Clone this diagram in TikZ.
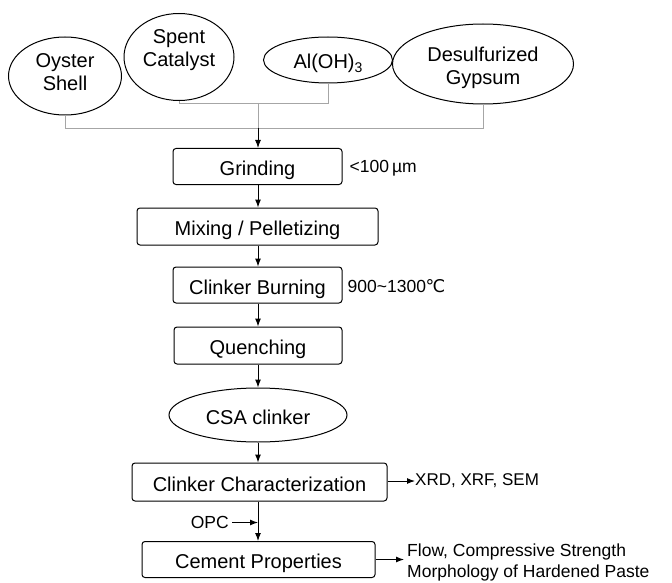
\documentclass[tikz,border=0pt]{standalone}
\usepackage{fontspec}
\setmainfont{Liberation Sans}
\newfontfamily\djv{DejaVu Sans}
\usetikzlibrary{shapes.geometric,arrows.meta,calc}
\tikzset{
  big/.style={font=\fontsize{20}{23}\selectfont},
  small/.style={font=\fontsize{17.5}{21}\selectfont, inner sep=0pt},
  src/.style={ellipse, draw=black, line width=1pt, inner sep=0pt, align=center, big},
  oneline/.style={text height=18pt, text depth=0pt},
  stepbox/.style={rectangle, rounded corners=3pt, draw=black, line width=1pt, inner sep=0pt, big, oneline},
  arr/.style={-{Latex[length=8pt,width=6pt]}, line width=1pt, black},
  feed/.style={line width=0.8pt, gray!70},
}
\begin{document}
\begin{tikzpicture}[x=1pt,y=-1pt]
\useasboundingbox (0,0) rectangle (672,583);
% source ellipses
\node[src, text height=34pt, text depth=4.7pt, minimum width=113pt, minimum height=78pt] (oyster) at (65,76) {Oyster\\Shell};
\node[src, text height=30pt, text depth=10.7pt, minimum width=110pt, minimum height=87pt] (spent) at (179,57) {Spent\\Catalyst};
\node[src, oneline, minimum width=129pt, minimum height=46pt] (al) at (328,60) {Al(OH)\raisebox{-0.35ex}{\fontsize{14}{14}\selectfont 3}};
\node[src, text height=45pt, text depth=3.7pt, minimum width=181pt, minimum height=80pt] (gyp) at (483,64) {Desulfurized\\Gypsum};
% process
\node[stepbox, minimum width=169pt, minimum height=36pt] (grind) at (257.5,166.5) {Grinding};
\node[stepbox, minimum width=241pt, minimum height=37pt] (mix) at (257.5,226.5) {Mixing / Pelletizing};
\node[stepbox, minimum width=169pt, minimum height=36pt] (burn) at (257.5,285) {Clinker Burning};
\node[stepbox, minimum width=168pt, minimum height=37pt] (quench) at (258,345.5) {Quenching};
\node[src, oneline, minimum width=178pt, minimum height=54pt] (csa) at (258,415) {CSA clinker};
\node[stepbox, minimum width=255pt, minimum height=38pt] (char) at (259.5,482) {Clinker Characterization};
\node[stepbox, minimum width=233pt, minimum height=36pt] (cement) at (258.5,559.5) {Cement Properties};
% side labels
\node[small, anchor=west] (size) at ($(grind.east)+(7,1.5)$) {<100\,µm};
\node[small, anchor=west] (temp) at ($(burn.east)+(5,1.5)$) {900\textasciitilde1300{\djv\kern-0.5pt ℃}};
\node[small, anchor=west, font=\fontsize{17}{21}\selectfont] (xrd) at (415,481) {XRD, XRF, SEM};
\node[small, anchor=east] (opc) at (229,522.5) {OPC};
\coordinate (opcend) at (258,522.5);
\node[small, anchor=west, align=left] (props) at (407,562.5) {Flow, Compressive Strength\\Morphology of Hardened Paste};
% feed connectors
\coordinate (j1) at (258,103);
\coordinate (j2) at (258,128);
\draw[feed] (spent.south) -- (spent.south |- j1) -- (al.south |- j1) -- (al.south);
\draw[feed] (oyster.south) -- (oyster.south |- j2) -- (gyp.south |- j2) -- (gyp.south);
\draw[feed] (j1) -- (j2);
\draw[arr] (j2) -- (j2 |- grind.north);
% main flow
\draw[arr] (grind.south -| j2) -- (mix.north -| j2);
\draw[arr] (mix.south -| j2) -- (burn.north -| j2);
\draw[arr] (burn.south -| j2) -- (quench.north -| j2);
\draw[arr] (quench.south -| j2) -- (csa.north -| j2);
\draw[arr] (csa.south -| j2) -- (char.north -| j2);
\draw[arr] (char.south -| j2) -- (cement.north -| j2);
\draw[arr] (char.east |- xrd.west) -- (xrd.west);
\draw[arr] ([xshift=3pt]opc.east) -- (opcend);
\draw[arr] (cement.east) -- ([xshift=-3pt]props.west |- cement.east);
\end{tikzpicture}
\end{document}
